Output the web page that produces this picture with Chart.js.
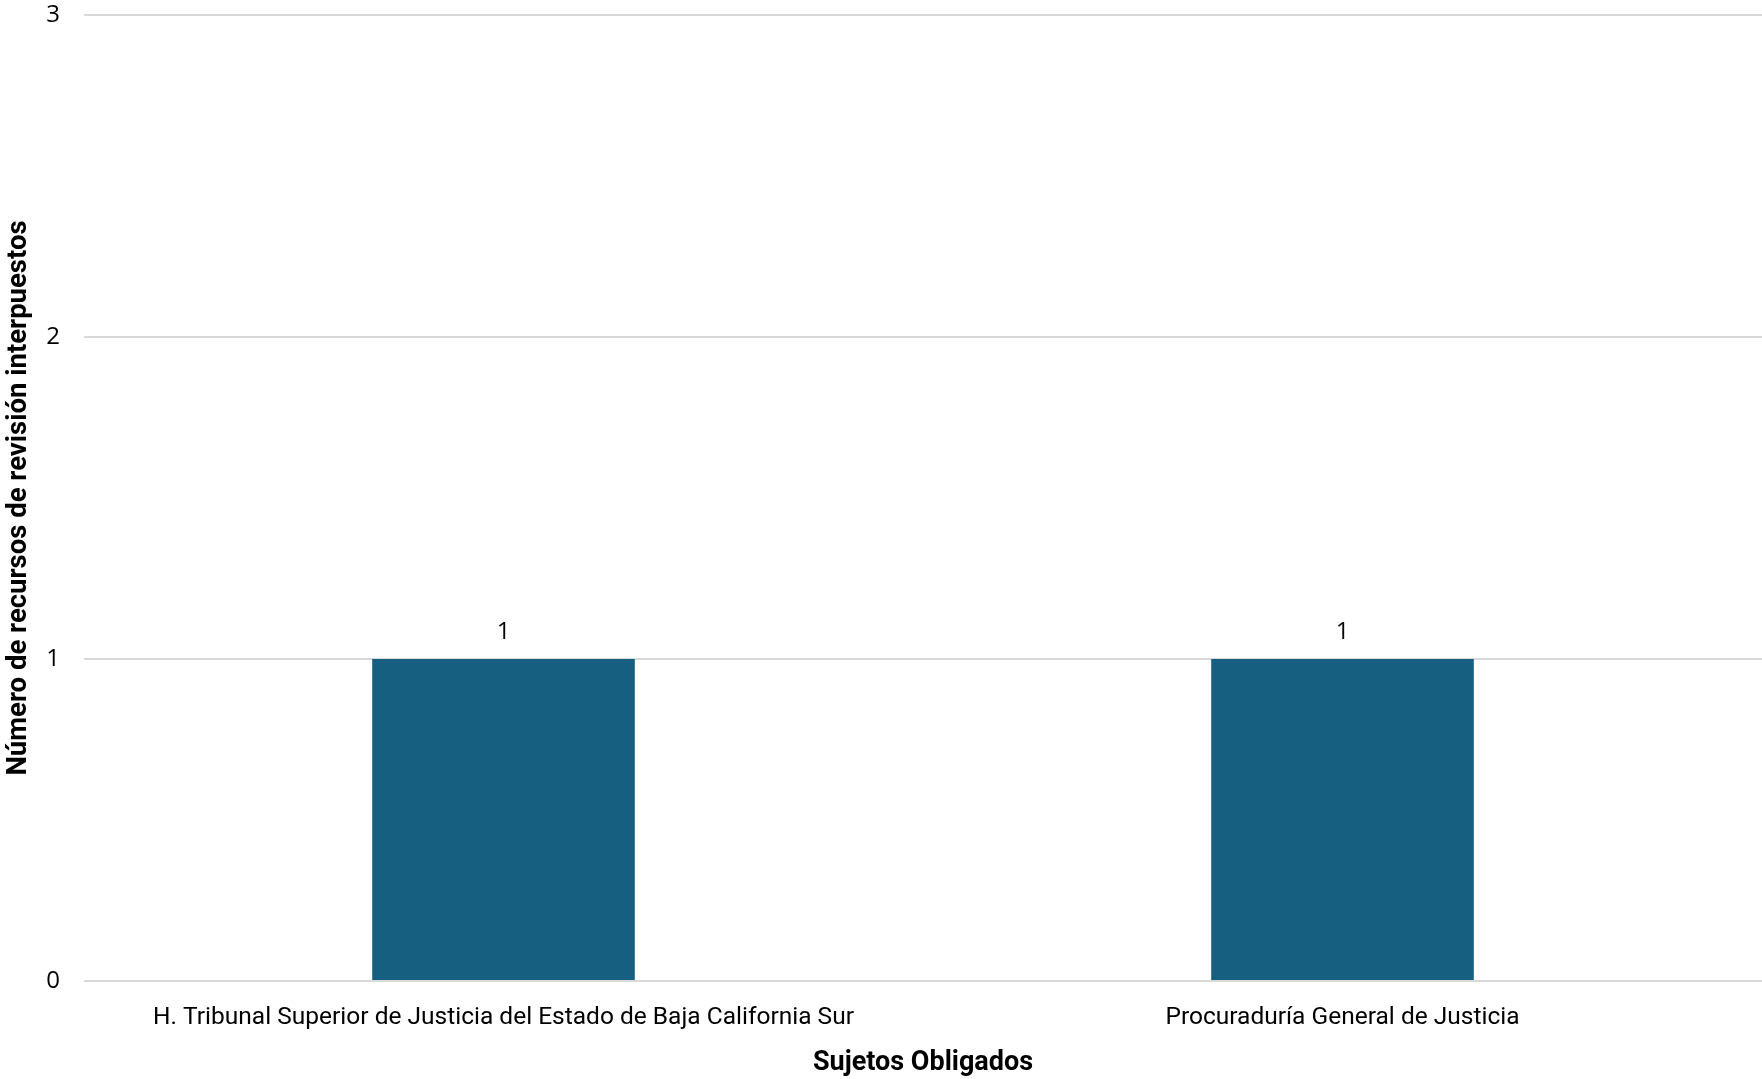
<!DOCTYPE html>
<html>
<head>
<meta charset="utf-8">
<script src="https://cdn.jsdelivr.net/npm/chart.js@4.4.1/dist/chart.umd.min.js"></script>
<style>
    html, body { margin: 0; padding: 0; background: #fff; }
    #wrap { width: 1762px; height: 1079px; }
</style>
</head>
<body>
<div id="wrap"><canvas id="chart" width="1762" height="1079"></canvas></div>
<script>
const categories = [
    "H. Tribunal Superior de Justicia del Estado de Baja California Sur",
    "Procuraduría General de Justicia"
];
const recursos = [1, 1];
const yTicks = [0, 1, 2, 3];

const labelFont = "'Roboto', 'Liberation Sans', sans-serif";
const plainFont = "'Open Sans', 'Liberation Sans', sans-serif";

// Value labels above each bar
const barLabels = {
    id: "barLabels",
    afterDatasetsDraw(chart) {
        const ctx = chart.ctx;
        const meta = chart.getDatasetMeta(0);
        ctx.save();
        ctx.font = "24px " + plainFont;
        ctx.fillStyle = "#000";
        ctx.textAlign = "center";
        ctx.textBaseline = "middle";
        meta.data.forEach((bar, i) => {
            ctx.fillText(String(recursos[i]), bar.x, bar.y - 27);
        });
        ctx.restore();
    }
};

new Chart(document.getElementById("chart"), {
    type: "bar",
    data: {
        labels: categories,
        datasets: [{
            data: recursos,
            backgroundColor: "#175f80",
            categoryPercentage: 1,
            barPercentage: 0.313
        }]
    },
    options: {
        responsive: false,
        animation: false,
        layout: { padding: { top: 15, right: 0, left: 0, bottom: 0 } },
        plugins: {
            legend: { display: false },
            tooltip: { enabled: false }
        },
        scales: {
            x: {
                grid: { display: false, drawTicks: false },
                border: { display: false },
                ticks: {
                    color: "#000",
                    font: { family: labelFont, size: 24.5 },
                    padding: 22,
                    maxRotation: 0,
                    autoSkip: false
                },
                title: {
                    display: true,
                    text: "Sujetos Obligados",
                    color: "#000",
                    font: { family: labelFont, size: 27, weight: "bold" },
                    padding: { bottom: 0, top: 0 }
                },
                afterFit(scale) {
                    scale.height = 98;
                    scale.paddingLeft = 0;
                    scale.paddingRight = 0;
                }
            },
            y: {
                min: 0,
                max: 3,
                afterBuildTicks(scale) {
                    scale.ticks = yTicks.map(v => ({ value: v }));
                },
                grid: { color: "#d9d9d9", lineWidth: 2, drawTicks: false },
                border: { display: false },
                ticks: {
                    color: "#000",
                    font: { family: plainFont, size: 24 },
                    padding: 24
                },
                title: {
                    display: true,
                    text: "Número de recursos de revisión interpuestos",
                    color: "#000",
                    font: { family: labelFont, size: 27.5, weight: "bold" },
                    padding: { top: 3, bottom: 0 }
                },
                afterFit(scale) {
                    scale.width = 84;
                    scale.paddingTop = 0;
                    scale.paddingBottom = 0;
                }
            }
        }
    },
    plugins: [barLabels]
});
</script>
</body>
</html>
